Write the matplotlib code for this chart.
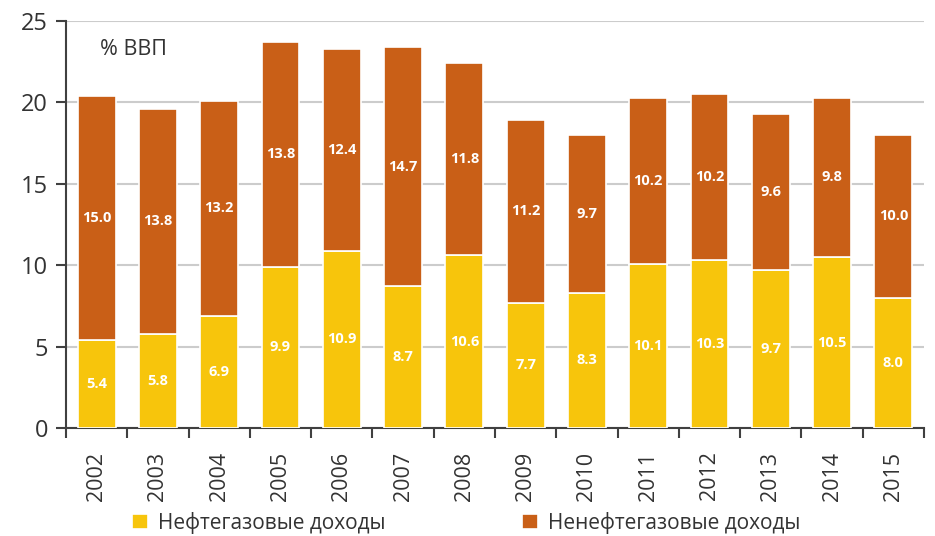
import matplotlib
matplotlib.use("Agg")
import matplotlib.pyplot as plt
import numpy as np

years = ["2002", "2003", "2004", "2005", "2006", "2007", "2008",
         "2009", "2010", "2011", "2012", "2013", "2014", "2015"]
oil_gas = [5.4, 5.8, 6.9, 9.9, 10.9, 8.7, 10.6, 7.7, 8.3, 10.1, 10.3, 9.7, 10.5, 8.0]
non_oil_gas = [15.0, 13.8, 13.2, 13.8, 12.4, 14.7, 11.8, 11.2, 9.7, 10.2, 10.2, 9.6, 9.8, 10.0]
series_names = ["Нефтегазовые доходы", "Ненефтегазовые доходы"]
y_ticks = [0, 5, 10, 15, 20, 25]

YELLOW = "#F7C50C"
ORANGE = "#C95F17"
TEXT = "#333333"

plt.rcParams["font.family"] = ["Open Sans", "DejaVu Sans"]

fig = plt.figure(figsize=(9.35, 5.36), dpi=100)
ax = fig.add_axes([66 / 935, 108 / 536, 858 / 935, 407 / 536])

x = np.arange(len(years))
w = 0.62
b1 = ax.bar(x, oil_gas, width=w, color=YELLOW, edgecolor="white", linewidth=1.2,
            label=series_names[0], zorder=3)
b2 = ax.bar(x, non_oil_gas, width=w, bottom=oil_gas, color=ORANGE, edgecolor="white",
            linewidth=1.2, label=series_names[1], zorder=3)

for xi, a, b in zip(x, oil_gas, non_oil_gas):
    ax.text(xi, a / 2, f"{a:.1f}", ha="center", va="center", color="white",
            fontsize=10.5, fontweight="bold", zorder=4)
    ax.text(xi, a + b / 2, f"{b:.1f}", ha="center", va="center", color="white",
            fontsize=10.5, fontweight="bold", zorder=4)

ax.set_xlim(-0.5, len(years) - 0.5)
ax.set_ylim(0, 25)
ax.set_yticks(y_ticks)
ax.set_yticklabels([str(t) for t in y_ticks], fontsize=17, color=TEXT)
ax.yaxis.grid(True, color="#cccccc", linewidth=1.5, zorder=0)
ax.set_axisbelow(True)

# category labels centred under bars, ticks at category boundaries
ax.set_xticks(x)
ax.set_xticklabels(years, rotation=90, fontsize=15.5, color=TEXT)
ax.tick_params(axis="x", which="major", length=0, pad=17)
ax.set_xticks(np.arange(-0.5, len(years)), minor=True)
ax.tick_params(axis="x", which="minor", length=7, width=1.5, color="#404040", direction="out")
ax.tick_params(axis="y", length=7, width=1.5, color="#404040", direction="out", pad=6)

for s in ["top", "right"]:
    ax.spines[s].set_visible(False)
for s in ["left", "bottom"]:
    ax.spines[s].set_color("#404040")
    ax.spines[s].set_linewidth(1.5)

ax.text(0.04, 0.93, "% ВВП", transform=ax.transAxes, fontsize=15.5, color=TEXT,
        ha="left", va="center")

# one legend entry per series, placed side by side under the axis labels
for handle, name, left in [(b1, series_names[0], 132), (b2, series_names[1], 522)]:
    leg = fig.legend(handles=[handle], labels=[name], loc="center left",
                     bbox_to_anchor=(left / 935, 1 - 523 / 536), frameon=False,
                     fontsize=15, handlelength=0.75, handleheight=0.75,
                     handletextpad=0.5, borderpad=0, borderaxespad=0)
    for t in leg.get_texts():
        t.set_color(TEXT)

fig.savefig("out.png", dpi=100)
